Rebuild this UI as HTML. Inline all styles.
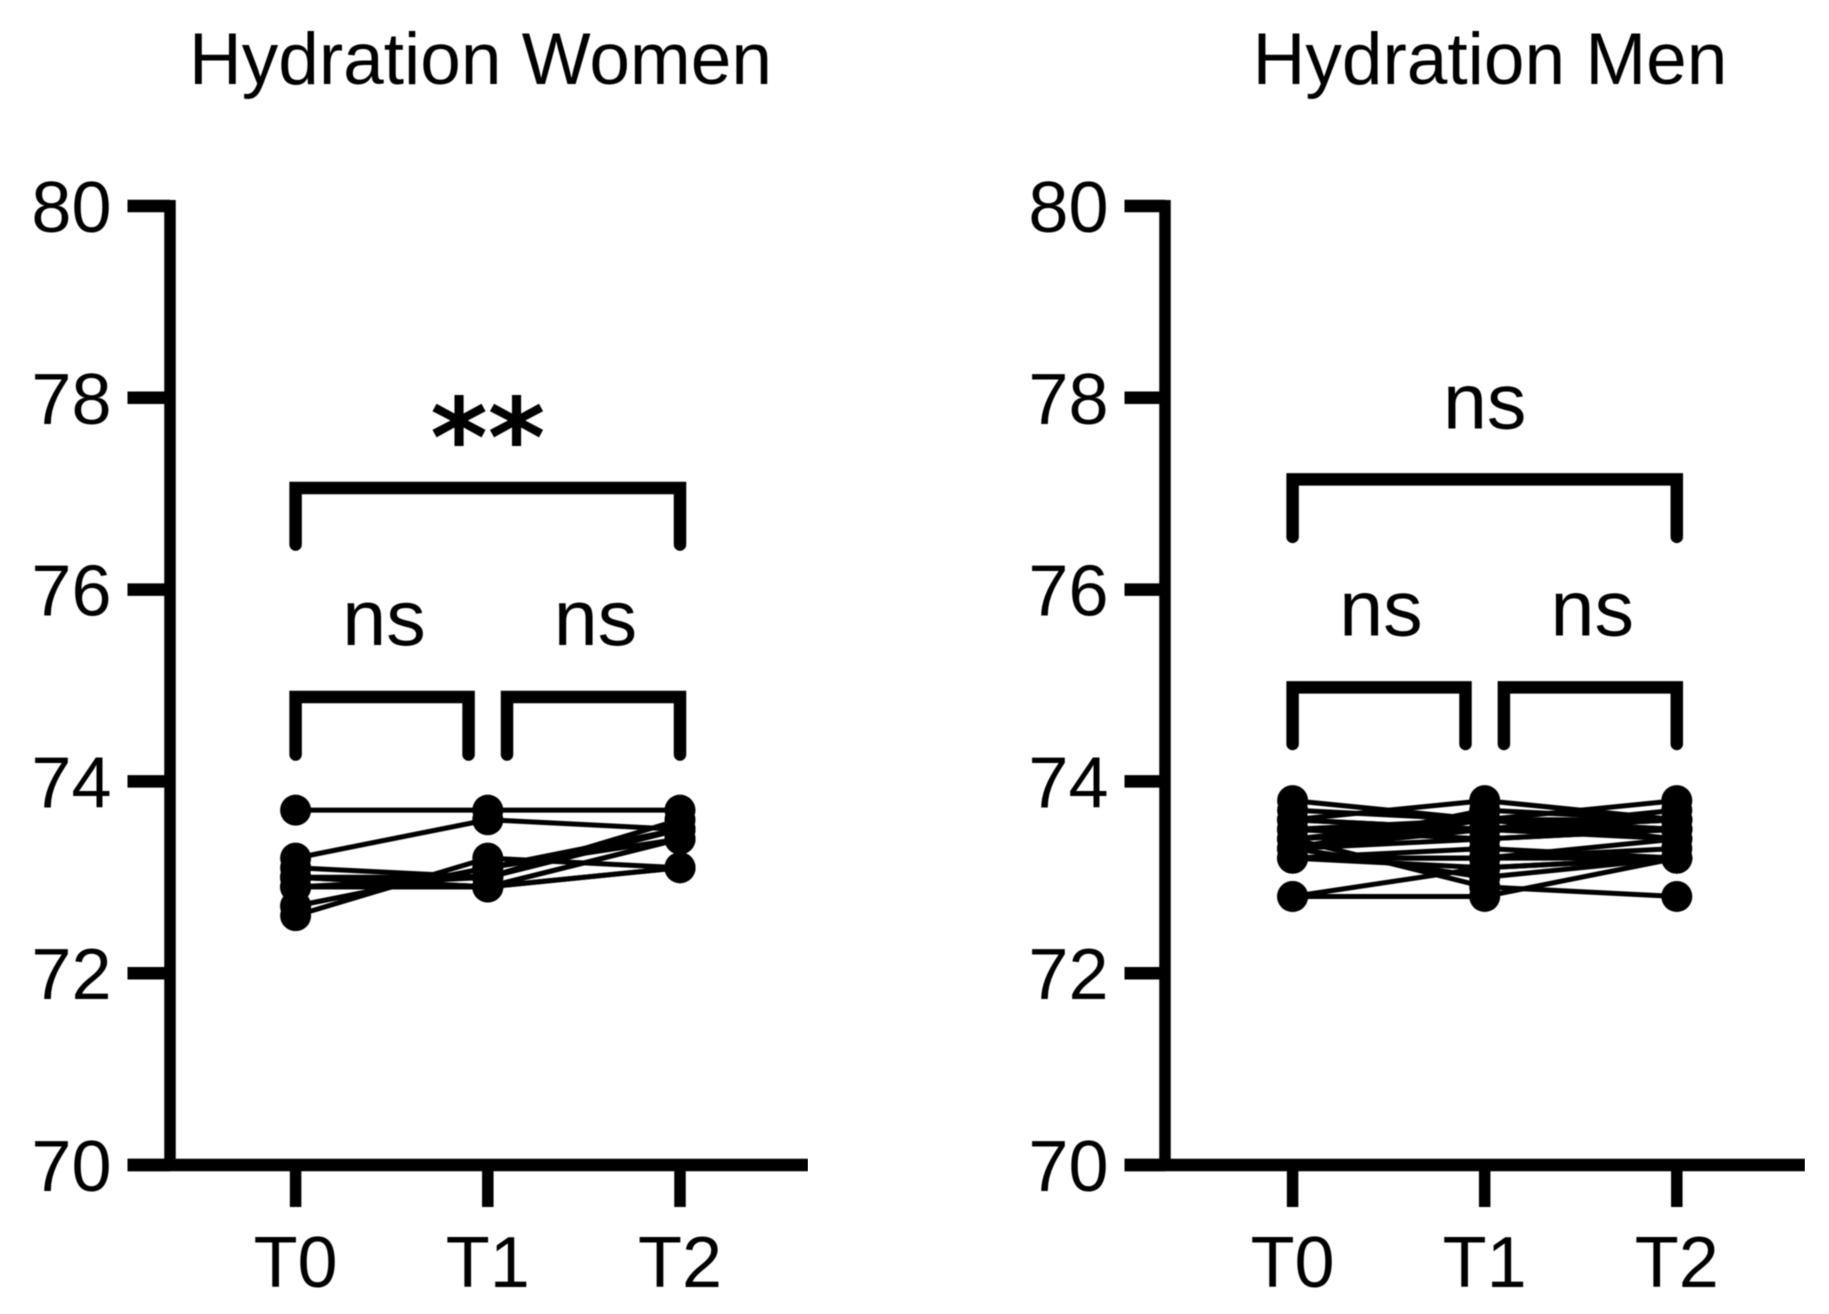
<!DOCTYPE html>
<html lang="en">
<head>
<meta charset="utf-8">
<title>Hydration Women and Men</title>
<style>
html,body{margin:0;padding:0;background:#fff;width:1829px;height:1314px;overflow:hidden}
svg{display:block}
text{font-family:"Liberation Sans",sans-serif;fill:#000}
</style>
</head>
<body>
<svg id="chart" xmlns="http://www.w3.org/2000/svg" width="1829" height="1314" viewBox="0 0 1829 1314">
<defs><filter id="soft" x="0" y="0" width="100%" height="100%"><feGaussianBlur stdDeviation="0.6"/></filter></defs>
<rect width="1829" height="1314" fill="#fff"/>
</svg>
<script>
const timepoints = ['T0', 'T1', 'T2'];
const yTicks = [70, 72, 74, 76, 78, 80];

const womenSeries = [
  [73.7, 73.7, 73.7],
  [73.2, 73.6, 73.5],
  [73.1, 73.0, 73.5],
  [73.0, 72.9, 73.1],
  [73.0, 73.0, 73.5],
  [72.9, 72.9, 73.4],
  [72.9, 72.9, 73.4],
  [72.9, 73.0, 73.6],
  [73.0, 72.9, 73.1],
  [72.7, 73.1, 73.5],
  [72.7, 73.1, 73.4],
  [72.6, 73.2, 73.1]
];

const menSeries = [
  [73.8, 73.6, 73.6],
  [73.7, 73.6, 73.5],
  [73.6, 73.8, 73.6],
  [73.6, 73.5, 73.5],
  [73.5, 73.5, 73.7],
  [73.5, 73.4, 73.5],
  [73.5, 73.6, 73.4],
  [73.4, 73.6, 73.5],
  [73.4, 72.9, 72.8],
  [73.4, 73.5, 73.4],
  [73.3, 73.5, 73.6],
  [73.3, 73.4, 73.5],
  [73.3, 73.0, 73.2],
  [73.2, 73.2, 73.2],
  [73.2, 73.1, 73.2],
  [73.2, 73.2, 73.4],
  [73.3, 73.6, 73.8],
  [72.8, 72.8, 73.2],
  [72.8, 73.1, 73.2],
  [73.5, 73.5, 73.5],
  [73.4, 73.5, 73.5],
  [73.6, 73.5, 73.6],
  [73.2, 73.3, 73.2],
  [73.2, 73.2, 73.3],
  [73.3, 73.7, 73.6]
];

/* Significance brackets: category from/to, bar level and leg end in axis units */
const womenBrackets = [[0, 2, 77.06, 76.47], [0, 0.9, 74.88, 74.28], [1.1, 2, 74.88, 74.28]];
const menBrackets = [[0, 2, 77.15, 76.55], [0, 0.9, 74.98, 74.39], [1.1, 2, 74.98, 74.39]];
const womenSigLabels = [['**', 1, 77.18], ['ns', 0.46, 75.42], ['ns', 1.56, 75.42]];
const menSigLabels = [['ns', 1, 77.68], ['ns', 0.46, 75.52], ['ns', 1.56, 75.52]];

const svg = document.getElementById('chart');
const NS = 'http://www.w3.org/2000/svg';

function make(tag, parent) {
  const el = document.createElementNS(NS, tag);
  parent.appendChild(el);
  return el;
}

function drawPanel(title, titleX, axisX, tickLeft, axisRight, cat0, catStep, series, brackets, sigLabels, prefix) {
  const yScale = v => 1165 - 95.9 * (v - 70);
  const xScale = i => cat0 + catStep * i;

  const g = make('g', svg);
  
  
  g.setAttribute('filter', 'url(#soft)');

  const t = make('text', g);
  
  
  t.setAttribute('x', titleX);
  t.setAttribute('y', 84);
  t.setAttribute('font-size', 73);
  t.setAttribute('text-anchor', 'middle');
  t.textContent = title;

  const yAxis = make('line', g);
  
  
  yAxis.setAttribute('x1', axisX);
  yAxis.setAttribute('x2', axisX);
  yAxis.setAttribute('y1', yScale(80) - 6);
  yAxis.setAttribute('y2', yScale(70));
  yAxis.setAttribute('stroke', '#000');
  yAxis.setAttribute('stroke-width', 11.5);

  const xAxis = make('line', g);
  
  
  xAxis.setAttribute('x1', tickLeft);
  xAxis.setAttribute('x2', axisRight);
  xAxis.setAttribute('y1', yScale(70));
  xAxis.setAttribute('y2', yScale(70));
  xAxis.setAttribute('stroke', '#000');
  xAxis.setAttribute('stroke-width', 12.5);

  yTicks.forEach(v => {
    const tick = make('line', g);
    
    
    tick.setAttribute('x1', tickLeft);
    tick.setAttribute('x2', axisX);
    tick.setAttribute('y1', yScale(v));
    tick.setAttribute('y2', yScale(v));
    tick.setAttribute('stroke', '#000');
    tick.setAttribute('stroke-width', 12.5);

    const lab = make('text', g);
    
    
    lab.setAttribute('x', tickLeft - 16);
    lab.setAttribute('y', yScale(v) + 26);
    lab.setAttribute('font-size', 72);
    lab.setAttribute('text-anchor', 'end');
    lab.textContent = v;
  });

  timepoints.forEach((name, i) => {
    const tick = make('line', g);
    
    
    tick.setAttribute('x1', xScale(i));
    tick.setAttribute('x2', xScale(i));
    tick.setAttribute('y1', yScale(70));
    tick.setAttribute('y2', 1207);
    tick.setAttribute('stroke', '#000');
    tick.setAttribute('stroke-width', 11.5);

    const lab = make('text', g);
    
    
    lab.setAttribute('x', xScale(i));
    lab.setAttribute('y', 1287);
    lab.setAttribute('font-size', 72);
    lab.setAttribute('text-anchor', 'middle');
    lab.textContent = name;
  });

  series.forEach((vals, s) => {
    const line = make('polyline', g);
    
    
    line.setAttribute('points', vals.map((v, i) => xScale(i) + ',' + yScale(v)).join(' '));
    line.setAttribute('fill', 'none');
    line.setAttribute('stroke', '#000');
    line.setAttribute('stroke-width', 5);

    vals.forEach((v, i) => {
      const dot = make('circle', g);
      
      
      dot.setAttribute('cx', xScale(i));
      dot.setAttribute('cy', yScale(v));
      dot.setAttribute('r', 15.5);
      dot.setAttribute('fill', '#000');
    });
  });

  brackets.forEach((b, k) => {
    const br = make('path', g);
    
    
    br.setAttribute('d', 'M' + xScale(b[0]) + ' ' + yScale(b[3]) +
      'L' + xScale(b[0]) + ' ' + yScale(b[2]) +
      'L' + xScale(b[1]) + ' ' + yScale(b[2]) +
      'L' + xScale(b[1]) + ' ' + yScale(b[3]));
    br.setAttribute('fill', 'none');
    br.setAttribute('stroke', '#000');
    br.setAttribute('stroke-width', 12.5);
    br.setAttribute('stroke-linecap', 'round');
    br.setAttribute('stroke-linejoin', 'miter');
  });

  sigLabels.forEach((l, k) => {
    const sig = make('text', g);
    
    
    sig.setAttribute('x', xScale(l[1]));
    sig.setAttribute('y', yScale(l[2]));
    sig.setAttribute('text-anchor', 'middle');
    if (l[0] === '**') {
      sig.setAttribute('font-size', 110);
      sig.setAttribute('font-weight', 'bold');
      sig.setAttribute('style', 'font-family:"DejaVu Sans",sans-serif');
    } else {
      sig.setAttribute('font-size', 79);
    }
    sig.textContent = l[0];
  });
}

drawPanel('Hydration Women', 480.5, 170, 127.5, 808, 295.6, 192.2, womenSeries, womenBrackets, womenSigLabels, 'women');
drawPanel('Hydration Men', 1490, 1165, 1124.5, 1805, 1292.6, 192.1, menSeries, menBrackets, menSigLabels, 'men');
</script>
</body>
</html>
